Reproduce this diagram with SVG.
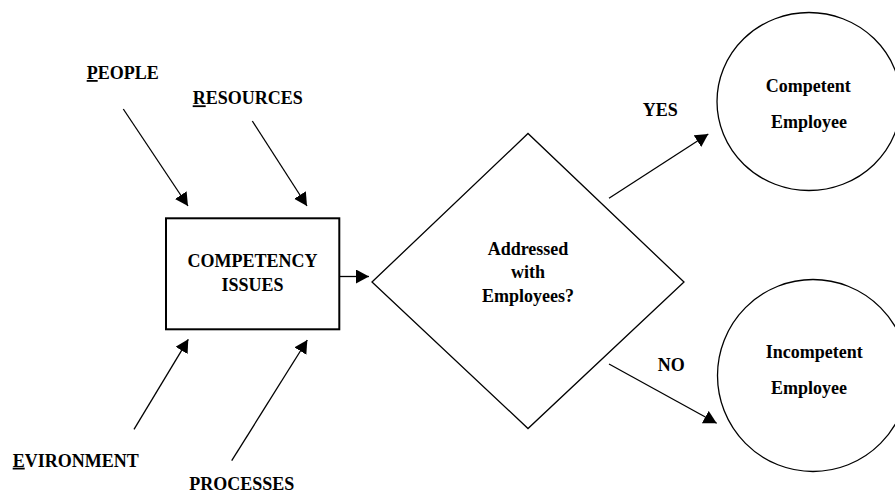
<svg xmlns="http://www.w3.org/2000/svg" width="895" height="494" viewBox="0 0 895 494">
<defs>
<marker id="ah" markerUnits="userSpaceOnUse" markerWidth="15" markerHeight="15" refX="13" refY="7" orient="auto">
<path d="M0,0 L13,7 L0,14 z" fill="#000"/>
</marker>
<style>
text{font-family:'Liberation Serif','Times New Roman',serif;font-weight:700;font-size:18px;fill:#000;}
.c{text-anchor:middle;}
.u{text-decoration:underline;}
.shape{fill:#fff;stroke:#000;}
.conn{stroke:#000;stroke-width:1.3;fill:none;marker-end:url(#ah);}
</style>
</defs>
<rect width="895" height="494" fill="#fff"/>
<g id="connectors">
<line class="conn" x1="123.3" y1="109" x2="188" y2="206"/>
<line class="conn" x1="252.3" y1="121" x2="307" y2="206"/>
<line class="conn" x1="134" y1="429.3" x2="188.3" y2="339.3"/>
<line class="conn" x1="231.7" y1="460.7" x2="307.3" y2="340"/>
<line class="conn" x1="339" y1="276.5" x2="369" y2="276.5"/>
<line class="conn" x1="609" y1="198.3" x2="708.3" y2="134"/>
<line class="conn" x1="609" y1="364" x2="716.7" y2="423.3"/>
</g>
<g id="people"><text x="86.7" y="79"><tspan class="u">P</tspan>EOPLE</text></g>
<g id="resources"><text x="192.7" y="104.3"><tspan class="u">R</tspan>ESOURCES</text></g>
<g id="environment"><text x="12.7" y="466.7"><tspan class="u">E</tspan>VIRONMENT</text></g>
<g id="processes"><text x="189.3" y="490">PROCESSES</text></g>
<g id="competency-issues">
<rect class="shape" x="166" y="218.3" width="173.3" height="111" stroke-width="2"/>
<text class="c" x="252.5" y="267.3">COMPETENCY</text>
<text class="c" x="252.5" y="291">ISSUES</text>
</g>
<g id="decision">
<polygon class="shape" points="372,282 528,133.5 684,282 528,428.5" stroke-width="1.3"/>
<text class="c" x="528" y="255">Addressed</text>
<text class="c" x="528" y="278.3">with</text>
<text class="c" x="528" y="301.7">Employees?</text>
</g>
<g id="yes-label"><text x="642.7" y="115.7">YES</text></g>
<g id="no-label"><text x="657.7" y="370.7">NO</text></g>
<g id="competent">
<ellipse class="shape" cx="809" cy="101.5" rx="92" ry="89" stroke-width="1.3"/>
<text x="765.7" y="91.7">Competent</text>
<text x="771" y="127.7">Employee</text>
</g>
<g id="incompetent">
<ellipse class="shape" cx="813" cy="375.5" rx="95.5" ry="96" stroke-width="1.3"/>
<text x="765.7" y="358.3">Incompetent</text>
<text x="771" y="394.3">Employee</text>
</g>
</svg>
